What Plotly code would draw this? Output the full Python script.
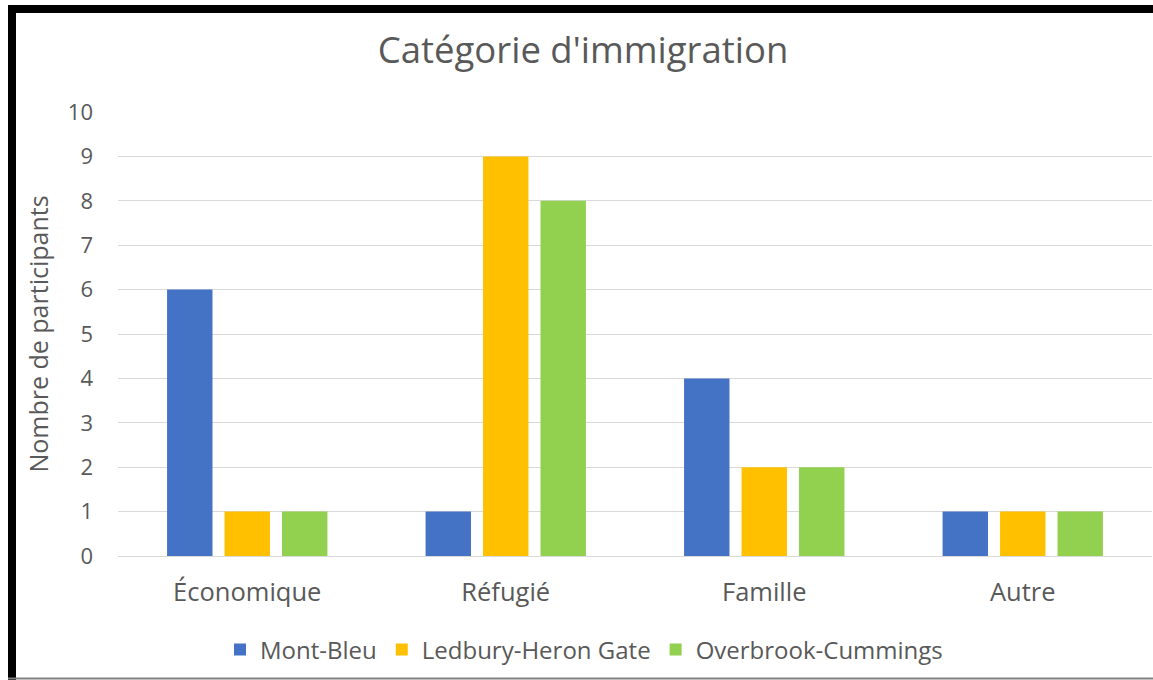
import plotly.graph_objects as go

categories = ["Économique", "Réfugié", "Famille", "Autre"]
series_names = ["Mont-Bleu", "Ledbury-Heron Gate", "Overbrook-Cummings"]
mont_bleu = [6, 1, 4, 1]
ledbury = [1, 9, 2, 1]
overbrook = [1, 8, 2, 1]
y_ticks = list(range(0, 11))
colors = ["#4472C4", "#FFC000", "#92D050"]

W, H = 1153, 680
L, R, T, B = 118, 1, 112, 124
pw = W - L - R
ph = H - T - B

def px_x(px):
    return (px - L) / pw

def px_y(py):
    return (H - B - py) / ph

FONT = "Open Sans"
GRAY = "#595959"

fig = go.Figure()
for name, vals, col in zip(series_names, [mont_bleu, ledbury, overbrook], colors):
    fig.add_trace(go.Bar(name=name, x=categories, y=vals, marker_color=col,
                         marker_line_width=0))

fig.update_layout(
    width=W, height=H,
    margin=dict(l=L, r=R, t=T, b=B),
    paper_bgcolor="white", plot_bgcolor="white",
    barmode="group", bargap=0.333, bargroupgap=0.21,
    font=dict(family=FONT, color=GRAY, size=22),
    title=dict(text="Catégorie d'immigration", x=583 / W, xanchor="center",
               y=1 - 50 / H, yanchor="middle", yref="container", xref="container",
               font=dict(size=36.5, color=GRAY, family=FONT)),
    legend=dict(orientation="h", xref="container", yref="container",
                x=584 / W, xanchor="center", y=1 - 650 / H, yanchor="middle",
                font=dict(size=24, color=GRAY), itemwidth=30, tracegroupgap=0),
    showlegend=True,
)
fig.update_yaxes(range=[0, 10], tickvals=y_ticks, showgrid=True, gridcolor="#D9D9D9",
                 gridwidth=1.3, zeroline=False, showline=False,
                 tickfont=dict(size=22, color=GRAY),
                 ticklabelstandoff=24,
                 title=dict(text="Nombre de participants", font=dict(size=25, color=GRAY),
                            standoff=12))
fig.update_xaxes(showgrid=False, showline=True, linecolor="#D9D9D9", linewidth=1.3,
                 tickfont=dict(size=25.5, color=GRAY), ticklabelstandoff=13)

# outer border of the image (rectangles in paper coordinates)
fig.add_shape(type="rect", xref="paper", yref="paper",
              x0=px_x(8), x1=px_x(1153), y0=px_y(5), y1=px_y(13),
              line_width=0, fillcolor="black", layer="above")
fig.add_shape(type="rect", xref="paper", yref="paper",
              x0=px_x(8), x1=px_x(16), y0=px_y(5), y1=px_y(680),
              line_width=0, fillcolor="black", layer="above")
fig.add_shape(type="rect", xref="paper", yref="paper",
              x0=px_x(8), x1=px_x(1153), y0=px_y(677.5), y1=px_y(679.5),
              line_width=0, fillcolor="#808080", layer="above")

fig.write_html("out.html", config={"displayModeBar": False},
               post_script="document.body.style.margin='0px';"
                           "document.body.style.overflow='hidden';")
